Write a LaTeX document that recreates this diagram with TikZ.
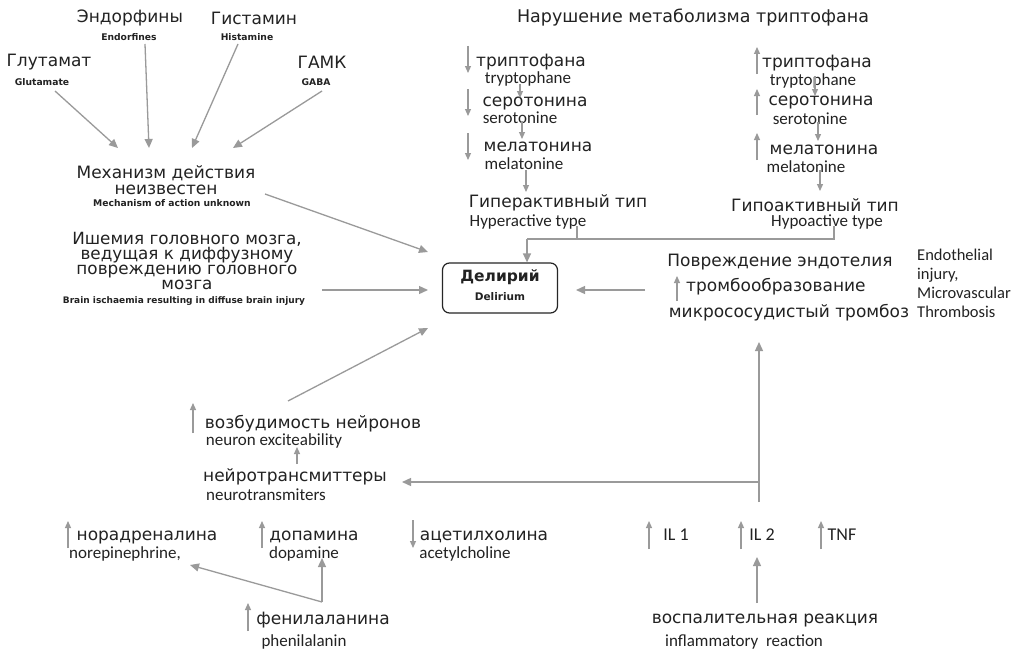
\documentclass[tikz,border=0pt]{standalone}
\usepackage{fontspec}
\setmainfont{DejaVu Sans}
\newfontfamily\enfont{Carlito}
\usetikzlibrary{arrows.meta}
\definecolor{ar}{HTML}{9A9A9A}
\definecolor{tx}{HTML}{222222}
\tikzset{
 ru/.style={inner sep=0pt, text=tx, font=\fontsize{17}{16}\selectfont},
 rul/.style={inner sep=0pt, text=tx, align=center, font=\fontsize{16.8}{15.2}\selectfont},
 en/.style={inner sep=0pt, text=tx, font=\enfont\fontsize{17}{19}\selectfont},
 sb/.style={inner sep=0pt, text=tx, font=\bfseries\fontsize{9.2}{10}\selectfont},
 conn/.style={draw=ar, line width=1.3pt, -{Triangle[length=9pt,width=8pt]}},
 ind/.style={draw=ar, line width=1.2pt, -{Triangle[length=7pt,width=6pt]}},
 lin/.style={draw=ar, line width=1.3pt},
}
\begin{document}
\begin{tikzpicture}[x=1pt,y=-1pt]
\useasboundingbox[fill=white] (0,0) rectangle (1024,661);

% ---------- top left ----------
\node[ru] (endru) at (130,18) {Эндорфины};
\node[sb] (enden) at (129,37) {Endorfines};
\node[ru] (histru) at (254,18) {Гистамин};
\node[sb] (histen) at (247,37) {Histamine};
\node[ru] (gluru) at (49,62) {Глутамат};
\node[sb] (gluen) at (42,82) {Glutamate};
\node[ru] (gabaru) at (322,62) {ГАМК};
\node[sb] (gabaen) at (316,82) {GABA};
\node[rul, font=\fontsize{17}{15.5}\selectfont] (mech) at (166,180) {Механизм действия\\неизвестен};
\node[sb] (mechen) at (172,203) {Mechanism of action unknown};

\coordinate (g1) at (55,91);  \coordinate (m1) at (118,148);
\coordinate (g2) at (145,44); \coordinate (m2) at (149,148);
\coordinate (g3) at (238,44); \coordinate (m3) at (192,148);
\coordinate (g4) at (322,91); \coordinate (m4) at (233,148);
\draw[conn] (g1) -- (m1);
\draw[conn] (g2) -- (m2);
\draw[conn] (g3) -- (m3);
\draw[conn] (g4) -- (m4);

% ischaemia
\node[rul] (isch) at (187,261) {Ишемия головного мозга,\\ведущая к диффузному\\повреждению головного\\мозга};
\node[sb, font=\bfseries\fontsize{9}{10}\selectfont] (ischen) at (184,301) {Brain ischaemia resulting in diffuse brain injury};

% ---------- delirium ----------
\node[draw=black!85, rounded corners=7pt, line width=1.2pt, minimum width=115pt, minimum height=50pt, inner sep=0pt] (del) at (500,288) {};
\node[inner sep=0pt, text=tx, font=\bfseries\fontsize{15.5}{17}\selectfont] (delru) at (500,277) {Делирий};
\node[inner sep=0pt, text=tx, font=\bfseries\fontsize{10.5}{12}\selectfont] (delen) at (500,297) {Delirium};

\coordinate (mechout) at (265,194); \coordinate (d1) at (428,252);
\coordinate (ischout) at (322,290); \coordinate (d2) at (428,290);
\coordinate (excout) at (288,401);  \coordinate (d3) at (428,328);
\draw[conn] (mechout) -- (d1);
\draw[conn] (ischout) -- (d2);
\draw[conn] (excout) -- (d3);

% ---------- tryptophan ----------
\node[ru, font=\fontsize{17.5}{16}\selectfont] (trtitle) at (693,18) {Нарушение метаболизма триптофана};

% left column (hyperactive)
\node[ru] (lt1) at (531,62) {триптофана};
\node[en] (lt1e) at (528,79) {tryptophane};
\node[ru] (lt2) at (535,104) {серотонина};
\node[en] (lt2e) at (520,118) {serotonine};
\node[ru] (lt3) at (538,147) {мелатонина};
\node[en] (lt3e) at (524,164) {melatonine};
\node[ru] (hyper) at (558,203) {Гиперактивный тип};
\node[en] (hyperen) at (528,222) {Hyperactive type};
\draw[ind] (468,46) -- (468,73);
\draw[ind] (468,89) -- (468,116);
\draw[ind] (468,133) -- (468,160);
\coordinate (lc1a) at (520,84);  \coordinate (lc1b) at (520,98);
\coordinate (lc2a) at (522,121); \coordinate (lc2b) at (522,139);
\coordinate (lc3a) at (526,170); \coordinate (lc3b) at (526,192);
\draw[ind] (lc1a) -- (lc1b);
\draw[ind] (lc2a) -- (lc2b);
\draw[ind] (lc3a) -- (lc3b);

% right column (hypoactive)
\node[ru] (rt1) at (817,63) {триптофана};
\node[en] (rt1e) at (813,81) {tryptophane};
\node[ru] (rt2) at (821,103) {серотонина};
\node[en] (rt2e) at (810,119) {serotonine};
\node[ru] (rt3) at (824,150) {мелатонина};
\node[en] (rt3e) at (806,167) {melatonine};
\node[ru] (hypo) at (815,205) {Гипоактивный тип};
\node[en] (hypoen) at (827,222) {Hypoactive type};
\draw[ind] (757,74) -- (757,47);
\draw[ind] (757,115) -- (757,89);
\draw[ind] (757,160) -- (757,133);
\coordinate (rc1a) at (815,76);  \coordinate (rc1b) at (815,96);
\coordinate (rc2a) at (818,122); \coordinate (rc2b) at (818,141);
\coordinate (rc3a) at (820,170); \coordinate (rc3b) at (820,191);
\draw[ind] (rc1a) -- (rc1b);
\draw[ind] (rc2a) -- (rc2b);
\draw[ind] (rc3a) -- (rc3b);

% joining line
\coordinate (hyj) at (577,226); \coordinate (hoj) at (834,226);
\coordinate (jl) at (527,239);
\draw[lin] (hyj) -- (hyj |- jl);
\draw[lin] (hoj) -- (hoj |- jl) -- (jl);
\draw[conn] (jl) -- (jl |- del.north);

% ---------- endothelial ----------
\node[ru] (endo1) at (780,262) {Повреждение эндотелия};
\node[ru, anchor=west] (endo2) at (686,287) {тромбообразование};
\node[ru] (endo3) at (789,313) {микрососудистый тромбоз};
\node[en, anchor=north west, align=left, font=\enfont\fontsize{16.5}{19}\selectfont] (endoen) at (917,249) {Endothelial\\injury,\\Microvascular\\Thrombosis};
\draw[ind] (677,301) -- (677,276);
\coordinate (endoout) at (645,290);
\coordinate (endoin) at (576,290);
\draw[conn] (endoout) -- (endoin);

% ---------- neurotransmitters ----------
\node[ru] (exc) at (313,424) {возбудимость нейронов};
\node[en] (excen) at (274,441) {neuron exciteability};
\draw[ind] (193,433) -- (193,403);
\node[ru] (nt) at (295,477) {нейротрансмиттеры};
\node[en] (nten) at (266,495) {neurotransmiters};
\coordinate (nta) at (297,464); \coordinate (ntb) at (297,447);
\draw[ind] (nta) -- (ntb);

% ---------- bottom left ----------
\node[ru] (nor) at (147,537) {норадреналина};
\node[en] (noren) at (125,554) {norepinephrine,};
\draw[ind] (68,548) -- (68,521);
\node[ru] (dop) at (314,537) {допамина};
\node[en] (dopen) at (304,554) {dopamine};
\draw[ind] (262,548) -- (262,521);
\node[ru] (ach) at (484,537) {ацетилхолина};
\node[en] (achen) at (465,554) {acetylcholine};
\draw[ind] (413,520) -- (413,548);
\node[ru] (phe) at (323,620) {фенилаланина};
\node[en] (pheen) at (304,642) {phenilalanin};
\draw[ind] (248,631) -- (248,603);
\coordinate (ph) at (322,602);
\coordinate (phd) at (322,558);
\coordinate (phn) at (190,565);
\draw[conn] (ph) -- (phd);
\draw[conn] (ph) -- (phn);

% ---------- inflammation ----------
\node[en, font=\enfont\fontsize{18}{20}\selectfont] (il1) at (676,535) {IL 1};
\node[en, font=\enfont\fontsize{18}{20}\selectfont] (il2) at (762,535) {IL 2};
\node[en, font=\enfont\fontsize{18}{20}\selectfont] (tnf) at (842,535) {TNF};
\draw[ind] (649,549) -- (649,521);
\draw[ind] (741,549) -- (741,521);
\draw[ind] (821,549) -- (821,521);
\node[ru] (infl) at (765,620) {воспалительная реакция};
\node[en] (inflen) at (744,642) {inflammatory\ \ reaction};
\coordinate (infa) at (757,603); \coordinate (infb) at (757,557);
\draw[conn] (infa) -- (infb);

\coordinate (vb) at (759,502); \coordinate (vt) at (759,342);
\coordinate (hj2) at (759,482); \coordinate (ntin) at (402,482);
\draw[conn] (vb) -- (vt);
\draw[conn] (hj2) -- (ntin);
\end{tikzpicture}
\end{document}
